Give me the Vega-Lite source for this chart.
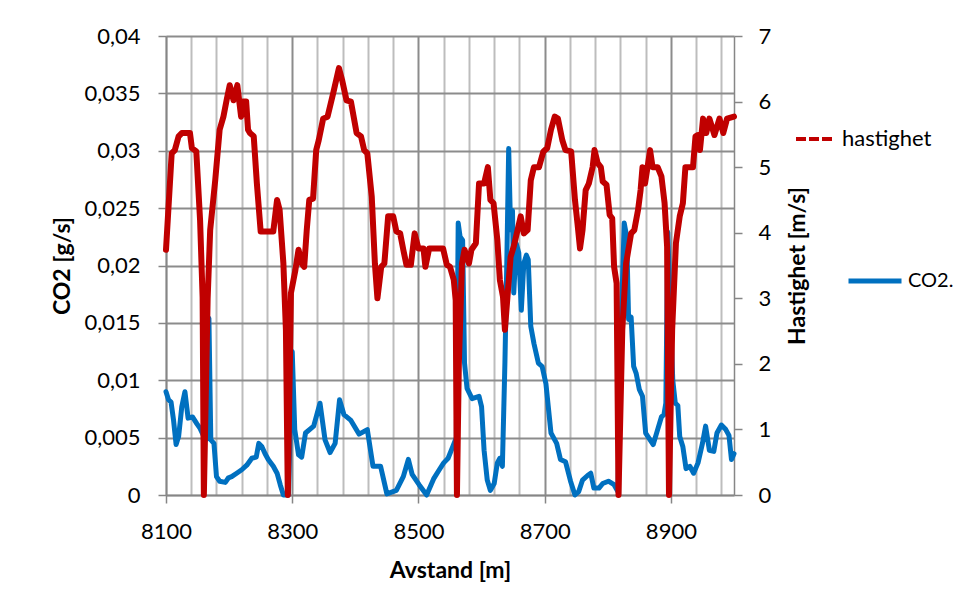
{
  "$schema": "https://vega.github.io/schema/vega-lite/v6.json",
  "width": 568,
  "height": 459,
  "autosize": {"type": "none"},
  "padding": {"left": 166, "top": 36, "right": 223, "bottom": 104},
  "background": "white",
  "config": {
    "font": "Lato",
    "view": {"stroke": null},
    "axis": {
      "labelFont": "Lato", "labelFontSize": 22, "labelColor": "#000000",
      "titleFont": "Lato", "titleFontSize": 23, "titleFontWeight": "bold", "titleColor": "#000000",
      "domainColor": "#868686", "domainWidth": 1.5, "tickColor": "#868686", "tickWidth": 1.5, "tickSize": 8
    },
    "legend": {"labelFont": "Lato", "labelFontSize": 22, "labelColor": "#000000", "padding": 0}
  },
  "datasets": {
    "co2": [
      {"avstand": 8100, "co2": 0.0090}, {"avstand": 8104, "co2": 0.0083}, {"avstand": 8108, "co2": 0.0081},
      {"avstand": 8112, "co2": 0.0065}, {"avstand": 8116, "co2": 0.0044}, {"avstand": 8120, "co2": 0.0051},
      {"avstand": 8125, "co2": 0.0077}, {"avstand": 8130, "co2": 0.0090}, {"avstand": 8135, "co2": 0.0067},
      {"avstand": 8142, "co2": 0.0068}, {"avstand": 8149, "co2": 0.0062}, {"avstand": 8154, "co2": 0.0058},
      {"avstand": 8159, "co2": 0.0052}, {"avstand": 8165, "co2": 0.0049}, {"avstand": 8168, "co2": 0.0154},
      {"avstand": 8171, "co2": 0.0048}, {"avstand": 8176, "co2": 0.0045}, {"avstand": 8180, "co2": 0.0016},
      {"avstand": 8185, "co2": 0.0012}, {"avstand": 8194, "co2": 0.0011}, {"avstand": 8199, "co2": 0.0015},
      {"avstand": 8204, "co2": 0.0016}, {"avstand": 8212, "co2": 0.0019}, {"avstand": 8220, "co2": 0.0022},
      {"avstand": 8228, "co2": 0.0026}, {"avstand": 8236, "co2": 0.0032}, {"avstand": 8243, "co2": 0.0033},
      {"avstand": 8247, "co2": 0.0045}, {"avstand": 8252, "co2": 0.0042}, {"avstand": 8257, "co2": 0.0036},
      {"avstand": 8262, "co2": 0.0031}, {"avstand": 8270, "co2": 0.0025}, {"avstand": 8276, "co2": 0.0019},
      {"avstand": 8281, "co2": 0.0009}, {"avstand": 8286, "co2": 0.0}, {"avstand": 8294, "co2": 0.0},
      {"avstand": 8300, "co2": 0.0125}, {"avstand": 8304, "co2": 0.0057}, {"avstand": 8310, "co2": 0.0035},
      {"avstand": 8315, "co2": 0.0033}, {"avstand": 8321, "co2": 0.0054}, {"avstand": 8334, "co2": 0.0060},
      {"avstand": 8344, "co2": 0.0080}, {"avstand": 8352, "co2": 0.0048}, {"avstand": 8360, "co2": 0.0037},
      {"avstand": 8368, "co2": 0.0045}, {"avstand": 8375, "co2": 0.0083}, {"avstand": 8382, "co2": 0.0070},
      {"avstand": 8393, "co2": 0.0065}, {"avstand": 8406, "co2": 0.0053}, {"avstand": 8419, "co2": 0.0057},
      {"avstand": 8428, "co2": 0.0025}, {"avstand": 8440, "co2": 0.0025}, {"avstand": 8450, "co2": 0.0001},
      {"avstand": 8465, "co2": 0.0004}, {"avstand": 8476, "co2": 0.0016}, {"avstand": 8484, "co2": 0.0031},
      {"avstand": 8490, "co2": 0.0018}, {"avstand": 8501, "co2": 0.0009}, {"avstand": 8513, "co2": 0.0},
      {"avstand": 8524, "co2": 0.0014}, {"avstand": 8533, "co2": 0.0022}, {"avstand": 8540, "co2": 0.0028},
      {"avstand": 8547, "co2": 0.0032}, {"avstand": 8555, "co2": 0.0043}, {"avstand": 8560, "co2": 0.0050},
      {"avstand": 8563, "co2": 0.0237}, {"avstand": 8566, "co2": 0.0225}, {"avstand": 8570, "co2": 0.0222},
      {"avstand": 8573, "co2": 0.0115}, {"avstand": 8577, "co2": 0.0093}, {"avstand": 8585, "co2": 0.0084},
      {"avstand": 8596, "co2": 0.0086}, {"avstand": 8600, "co2": 0.0077}, {"avstand": 8604, "co2": 0.0039},
      {"avstand": 8609, "co2": 0.0013}, {"avstand": 8614, "co2": 0.0004}, {"avstand": 8620, "co2": 0.0010},
      {"avstand": 8625, "co2": 0.0028}, {"avstand": 8629, "co2": 0.0032}, {"avstand": 8633, "co2": 0.0025},
      {"avstand": 8637, "co2": 0.0115}, {"avstand": 8640, "co2": 0.0202}, {"avstand": 8643, "co2": 0.0302},
      {"avstand": 8646, "co2": 0.0231}, {"avstand": 8649, "co2": 0.0248}, {"avstand": 8651, "co2": 0.0176},
      {"avstand": 8655, "co2": 0.0219}, {"avstand": 8659, "co2": 0.0211}, {"avstand": 8663, "co2": 0.0161},
      {"avstand": 8667, "co2": 0.0202}, {"avstand": 8671, "co2": 0.0209}, {"avstand": 8674, "co2": 0.0205},
      {"avstand": 8678, "co2": 0.0147}, {"avstand": 8683, "co2": 0.0132}, {"avstand": 8690, "co2": 0.0115},
      {"avstand": 8696, "co2": 0.0112}, {"avstand": 8702, "co2": 0.0097}, {"avstand": 8710, "co2": 0.0054},
      {"avstand": 8719, "co2": 0.0045}, {"avstand": 8725, "co2": 0.0031}, {"avstand": 8733, "co2": 0.0029},
      {"avstand": 8741, "co2": 0.0012}, {"avstand": 8748, "co2": 0.0}, {"avstand": 8754, "co2": 0.0003},
      {"avstand": 8760, "co2": 0.0013}, {"avstand": 8768, "co2": 0.0017}, {"avstand": 8773, "co2": 0.0019},
      {"avstand": 8778, "co2": 0.0006}, {"avstand": 8786, "co2": 0.0006}, {"avstand": 8792, "co2": 0.0010},
      {"avstand": 8801, "co2": 0.0012}, {"avstand": 8810, "co2": 0.0009}, {"avstand": 8816, "co2": 0.0003},
      {"avstand": 8821, "co2": 0.0144}, {"avstand": 8826, "co2": 0.0237}, {"avstand": 8830, "co2": 0.0225},
      {"avstand": 8833, "co2": 0.0153}, {"avstand": 8837, "co2": 0.0155}, {"avstand": 8841, "co2": 0.0112},
      {"avstand": 8845, "co2": 0.0106}, {"avstand": 8850, "co2": 0.0092}, {"avstand": 8855, "co2": 0.0086},
      {"avstand": 8860, "co2": 0.0054}, {"avstand": 8866, "co2": 0.0049}, {"avstand": 8872, "co2": 0.0044},
      {"avstand": 8879, "co2": 0.0057}, {"avstand": 8885, "co2": 0.0068}, {"avstand": 8889, "co2": 0.0070},
      {"avstand": 8892, "co2": 0.0080}, {"avstand": 8895, "co2": 0.0229}, {"avstand": 8898, "co2": 0.0180},
      {"avstand": 8903, "co2": 0.0100}, {"avstand": 8907, "co2": 0.0080}, {"avstand": 8911, "co2": 0.0078},
      {"avstand": 8914, "co2": 0.0051}, {"avstand": 8919, "co2": 0.0042}, {"avstand": 8924, "co2": 0.0023},
      {"avstand": 8930, "co2": 0.0025}, {"avstand": 8936, "co2": 0.0019}, {"avstand": 8943, "co2": 0.0028},
      {"avstand": 8950, "co2": 0.0045}, {"avstand": 8955, "co2": 0.0060}, {"avstand": 8961, "co2": 0.0039},
      {"avstand": 8968, "co2": 0.0038}, {"avstand": 8973, "co2": 0.0054}, {"avstand": 8980, "co2": 0.0061},
      {"avstand": 8987, "co2": 0.0057}, {"avstand": 8992, "co2": 0.0052}, {"avstand": 8996, "co2": 0.0031},
      {"avstand": 9000, "co2": 0.0036}
    ],
    "speed": [
      {"avstand": 8100, "hastighet": 3.74}, {"avstand": 8109, "hastighet": 5.21}, {"avstand": 8114, "hastighet": 5.26},
      {"avstand": 8120, "hastighet": 5.47}, {"avstand": 8125, "hastighet": 5.52}, {"avstand": 8138, "hastighet": 5.52},
      {"avstand": 8141, "hastighet": 5.29}, {"avstand": 8148, "hastighet": 5.24}, {"avstand": 8154, "hastighet": 4.19},
      {"avstand": 8158, "hastighet": 3.02}, {"avstand": 8160, "hastighet": 0}, {"avstand": 8166, "hastighet": 3.0},
      {"avstand": 8170, "hastighet": 4.04}, {"avstand": 8178, "hastighet": 4.8}, {"avstand": 8185, "hastighet": 5.57},
      {"avstand": 8191, "hastighet": 5.77}, {"avstand": 8196, "hastighet": 6.02}, {"avstand": 8201, "hastighet": 6.25},
      {"avstand": 8207, "hastighet": 6.02}, {"avstand": 8213, "hastighet": 6.25}, {"avstand": 8219, "hastighet": 5.77},
      {"avstand": 8222, "hastighet": 6.0}, {"avstand": 8227, "hastighet": 6.0}, {"avstand": 8230, "hastighet": 5.57},
      {"avstand": 8233, "hastighet": 5.52}, {"avstand": 8239, "hastighet": 5.47}, {"avstand": 8244, "hastighet": 4.75},
      {"avstand": 8250, "hastighet": 4.02}, {"avstand": 8270, "hastighet": 4.02}, {"avstand": 8276, "hastighet": 4.5},
      {"avstand": 8280, "hastighet": 4.35}, {"avstand": 8286, "hastighet": 3.53}, {"avstand": 8290, "hastighet": 2.52},
      {"avstand": 8293, "hastighet": 0}, {"avstand": 8298, "hastighet": 3.08}, {"avstand": 8305, "hastighet": 3.43},
      {"avstand": 8310, "hastighet": 3.74}, {"avstand": 8315, "hastighet": 3.53}, {"avstand": 8319, "hastighet": 3.48},
      {"avstand": 8323, "hastighet": 4.04}, {"avstand": 8327, "hastighet": 4.5}, {"avstand": 8333, "hastighet": 4.52},
      {"avstand": 8338, "hastighet": 5.26}, {"avstand": 8342, "hastighet": 5.41}, {"avstand": 8349, "hastighet": 5.74},
      {"avstand": 8356, "hastighet": 5.77}, {"avstand": 8365, "hastighet": 6.13}, {"avstand": 8374, "hastighet": 6.51},
      {"avstand": 8379, "hastighet": 6.33}, {"avstand": 8386, "hastighet": 6.02}, {"avstand": 8393, "hastighet": 6.0},
      {"avstand": 8402, "hastighet": 5.52}, {"avstand": 8409, "hastighet": 5.47}, {"avstand": 8414, "hastighet": 5.26},
      {"avstand": 8419, "hastighet": 5.21}, {"avstand": 8426, "hastighet": 4.55}, {"avstand": 8431, "hastighet": 3.53},
      {"avstand": 8435, "hastighet": 3.0}, {"avstand": 8441, "hastighet": 3.48}, {"avstand": 8446, "hastighet": 3.53},
      {"avstand": 8452, "hastighet": 4.25}, {"avstand": 8460, "hastighet": 4.25}, {"avstand": 8465, "hastighet": 4.02},
      {"avstand": 8471, "hastighet": 3.99}, {"avstand": 8476, "hastighet": 3.74}, {"avstand": 8481, "hastighet": 3.51},
      {"avstand": 8488, "hastighet": 3.51}, {"avstand": 8494, "hastighet": 3.99}, {"avstand": 8500, "hastighet": 3.76},
      {"avstand": 8508, "hastighet": 3.76}, {"avstand": 8511, "hastighet": 3.48}, {"avstand": 8517, "hastighet": 3.76},
      {"avstand": 8539, "hastighet": 3.76}, {"avstand": 8545, "hastighet": 3.51}, {"avstand": 8550, "hastighet": 3.48},
      {"avstand": 8556, "hastighet": 3.28}, {"avstand": 8559, "hastighet": 2.97}, {"avstand": 8561, "hastighet": 0},
      {"avstand": 8564, "hastighet": 2.0}, {"avstand": 8569, "hastighet": 3.53}, {"avstand": 8573, "hastighet": 3.74},
      {"avstand": 8580, "hastighet": 3.53}, {"avstand": 8584, "hastighet": 3.74}, {"avstand": 8591, "hastighet": 3.84},
      {"avstand": 8596, "hastighet": 4.75}, {"avstand": 8604, "hastighet": 4.75}, {"avstand": 8610, "hastighet": 5.0},
      {"avstand": 8614, "hastighet": 4.5}, {"avstand": 8619, "hastighet": 4.45}, {"avstand": 8625, "hastighet": 3.89},
      {"avstand": 8629, "hastighet": 3.28}, {"avstand": 8634, "hastighet": 3.02}, {"avstand": 8637, "hastighet": 2.52},
      {"avstand": 8641, "hastighet": 3.02}, {"avstand": 8646, "hastighet": 3.63}, {"avstand": 8651, "hastighet": 3.79},
      {"avstand": 8657, "hastighet": 4.04}, {"avstand": 8662, "hastighet": 4.25}, {"avstand": 8667, "hastighet": 3.99},
      {"avstand": 8673, "hastighet": 4.04}, {"avstand": 8678, "hastighet": 4.8}, {"avstand": 8683, "hastighet": 5.0},
      {"avstand": 8691, "hastighet": 5.0}, {"avstand": 8698, "hastighet": 5.24}, {"avstand": 8704, "hastighet": 5.29},
      {"avstand": 8710, "hastighet": 5.57}, {"avstand": 8716, "hastighet": 5.77}, {"avstand": 8721, "hastighet": 5.74},
      {"avstand": 8728, "hastighet": 5.41}, {"avstand": 8733, "hastighet": 5.26}, {"avstand": 8742, "hastighet": 5.24},
      {"avstand": 8748, "hastighet": 4.5}, {"avstand": 8752, "hastighet": 4.14}, {"avstand": 8756, "hastighet": 3.76},
      {"avstand": 8760, "hastighet": 4.04}, {"avstand": 8765, "hastighet": 4.65}, {"avstand": 8770, "hastighet": 4.75},
      {"avstand": 8776, "hastighet": 5.0}, {"avstand": 8779, "hastighet": 5.26}, {"avstand": 8784, "hastighet": 5.06},
      {"avstand": 8789, "hastighet": 5.0}, {"avstand": 8792, "hastighet": 4.78}, {"avstand": 8798, "hastighet": 4.73},
      {"avstand": 8803, "hastighet": 4.27}, {"avstand": 8807, "hastighet": 4.22}, {"avstand": 8810, "hastighet": 3.48},
      {"avstand": 8814, "hastighet": 3.23}, {"avstand": 8817, "hastighet": 0}, {"avstand": 8823, "hastighet": 2.52},
      {"avstand": 8829, "hastighet": 3.53}, {"avstand": 8837, "hastighet": 3.99}, {"avstand": 8842, "hastighet": 4.04},
      {"avstand": 8848, "hastighet": 4.35}, {"avstand": 8852, "hastighet": 4.65}, {"avstand": 8855, "hastighet": 5.0},
      {"avstand": 8859, "hastighet": 4.75}, {"avstand": 8863, "hastighet": 5.0}, {"avstand": 8867, "hastighet": 5.26},
      {"avstand": 8871, "hastighet": 5.0}, {"avstand": 8879, "hastighet": 5.0}, {"avstand": 8885, "hastighet": 4.86},
      {"avstand": 8890, "hastighet": 4.45}, {"avstand": 8894, "hastighet": 3.79}, {"avstand": 8897, "hastighet": 0},
      {"avstand": 8902, "hastighet": 2.52}, {"avstand": 8908, "hastighet": 3.84}, {"avstand": 8914, "hastighet": 4.25},
      {"avstand": 8919, "hastighet": 4.45}, {"avstand": 8923, "hastighet": 5.0}, {"avstand": 8935, "hastighet": 5.0},
      {"avstand": 8939, "hastighet": 5.47}, {"avstand": 8943, "hastighet": 5.49}, {"avstand": 8946, "hastighet": 5.26},
      {"avstand": 8951, "hastighet": 5.74}, {"avstand": 8956, "hastighet": 5.52}, {"avstand": 8961, "hastighet": 5.74},
      {"avstand": 8969, "hastighet": 5.49}, {"avstand": 8977, "hastighet": 5.74}, {"avstand": 8983, "hastighet": 5.52},
      {"avstand": 8989, "hastighet": 5.74}, {"avstand": 9000, "hastighet": 5.77}
    ]
  },
  "layer": [
    {
      "data": {"name": "co2"},
      "mark": {"type": "line", "color": "#0070C0", "strokeWidth": 5, "strokeJoin": "round", "strokeCap": "round"},
      "encoding": {
        "x": {
          "field": "avstand", "type": "quantitative",
          "scale": {"domain": [8100, 9000], "nice": false, "zero": false},
          "axis": {
            "title": "Avstand [m]",
            "values": [8100, 8140, 8180, 8220, 8260, 8300, 8340, 8380, 8420, 8460, 8500, 8540, 8580, 8620, 8660, 8700, 8740, 8780, 8820, 8860, 8900, 8940, 8980],
            "tickCount": 40,
            "labelOverlap": false,
            "labelFlush": false,
            "labelAlign": "center",
            "format": "d",
            "labelExpr": "(datum.value - 8100) % 200 === 0 ? datum.label : ''",
            "grid": true,
            "gridColor": {"condition": {"test": "(datum.value - 8100) % 200 === 0", "value": "#8c8c8c"}, "value": "#bdbdbd"},
            "gridWidth": 2,
            "tickOpacity": {"condition": {"test": "(datum.value - 8100) % 200 === 0", "value": 1}, "value": 0},
            "labelPadding": 18,
            "titleY": 82,
            "titleBaseline": "alphabetic"
          }
        },
        "y": {
          "field": "co2", "type": "quantitative",
          "scale": {"domain": [0, 0.04], "nice": false},
          "axis": {
            "orient": "left",
            "title": "CO2 [g/s]",
            "values": [0, 0.005, 0.01, 0.015, 0.02, 0.025, 0.03, 0.035, 0.04],
            "tickCount": 20,
            "labelFlush": false,
            "labelExpr": "replace(format(datum.value, '.3~f'), '.', ',')",
            "grid": true, "gridColor": "#8c8c8c", "gridWidth": 2,
            "labelPadding": 18,
            "titleAngle": 270, "titleX": -104, "titleY": 229.5, "titleAlign": "center", "titleBaseline": "middle"
          }
        },
        "color": {
          "datum": "CO2.",
          "scale": {"range": ["#0070C0"]},
          "legend": {
            "orient": "none", "legendX": 680, "legendY": 216, "title": null,
            "symbolType": "stroke", "symbolSize": 2809, "symbolStrokeWidth": 5, "labelOffset": 4, "labelFontSize": 20
          }
        }
      }
    },
    {
      "data": {"name": "speed"},
      "mark": {"type": "line", "color": "#C00000", "strokeWidth": 6, "strokeJoin": "round", "strokeCap": "round"},
      "encoding": {
        "x": {"field": "avstand", "type": "quantitative"},
        "y": {
          "field": "hastighet", "type": "quantitative",
          "scale": {"domain": [0, 7], "nice": false},
          "axis": {
            "orient": "right",
            "title": "Hastighet [m/s]",
            "values": [0, 1, 2, 3, 4, 5, 6, 7],
            "format": "d",
            "tickCount": 20,
            "labelFlush": false,
            "grid": false,
            "labelPadding": 16,
            "titleAngle": 270, "titleX": 63, "titleY": 229.5, "titleAlign": "center", "titleBaseline": "middle"
          }
        },
        "color": {
          "datum": "hastighet",
          "scale": {"range": ["#C00000"]},
          "legend": {
            "orient": "none", "legendX": 628, "legendY": 83, "title": null,
            "symbolType": "stroke", "symbolSize": 1296, "symbolStrokeWidth": 4, "symbolDash": [10, 3],
            "symbolStrokeColor": "#FF0000", "labelOffset": 8
          }
        }
      }
    }
  ],
  "resolve": {"scale": {"y": "independent", "color": "independent"}}
}
